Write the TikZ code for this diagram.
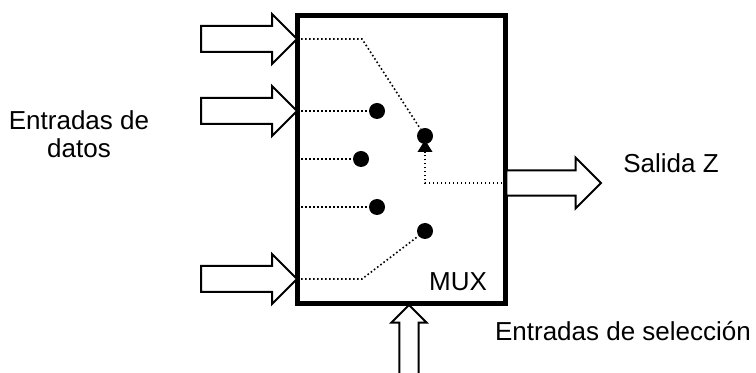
\documentclass[tikz,border=0pt]{standalone}
\usepackage{fontspec}
\setmainfont{Liberation Sans}
\usetikzlibrary{arrows.meta, shapes.arrows}

\tikzset{
  bus/.style={draw, fill=white, line width=1.5pt, single arrow, anchor=tip, outer sep=0pt, inner xsep=0pt,
              single arrow head indent=0pt, miter limit=10},
  entrada/.style={bus, minimum height=72pt, inner ysep=9pt, single arrow head extend=9pt},
  contacto/.style={circle, fill=black, inner sep=0pt, outer sep=0pt, minimum size=12pt},
  enlace/.style={line width=1.2pt, dash pattern=on 1.2pt off 1.8pt},
  rotulo/.style={font=\fontsize{19.5}{21}\selectfont, align=center, inner sep=0pt},
}

\begin{document}
\begin{tikzpicture}[x=0.75pt, y=-0.75pt]
\useasboundingbox (0,0) rectangle (756,373);

% contactos del conmutador
\node[contacto] (c2) at (377,111) {};
\node[contacto] (c3) at (361,159) {};
\node[contacto] (c4) at (377,207) {};
\node[contacto] (c5) at (425,231) {};
\node[contacto] (cz) at (425,136) {};

% buses de entrada y de salida
\coordinate (p1) at (297,39);
\coordinate (p2) at (297,111);
\coordinate (p3) at (297,159);
\coordinate (p4) at (297,207);
\coordinate (p5) at (297,279);
\coordinate (k1) at (362,39);
\coordinate (k5) at (362,279);
\coordinate (kz) at (425,183);

\draw[enlace] (p1) -- (k1) -- (cz);
\draw[enlace] (p2) -- (c2);
\draw[enlace] (p3) -- (c3);
\draw[enlace] (p4) -- (c4);
\draw[enlace] (p5) -- (k5) -- (c5);

\node[draw, line width=4.2pt, minimum width=156pt, minimum height=216pt, outer sep=0pt, inner sep=0pt] (mux) at (401.5,159.5) {};

\node[entrada] (e1) at (p1) {};
\node[entrada] (e2) at (p2) {};
\node[entrada] (e3) at (p5) {};
\node[bus, minimum height=71pt, inner ysep=8.8pt, single arrow head extend=9.5pt] (z) at (601,183) {};
\node[bus, rotate=90, minimum height=56pt, inner ysep=6.4pt, single arrow head extend=6pt] (sel) at (409,305) {};

\draw[enlace, -{Triangle[length=9pt, width=11pt]}, shorten >=-3pt] (z.tail) -- (kz) -- (cz);

% textos
\node[rotulo] (tdatos) at (79,134) {Entradas de\\datos};
\node[rotulo] (tz) at (671,163) {Salida Z};
\node[rotulo] (tmux) at (458,282) {MUX};
\node[rotulo] (tsel) at (623,331) {Entradas de selección};
\end{tikzpicture}
\end{document}
